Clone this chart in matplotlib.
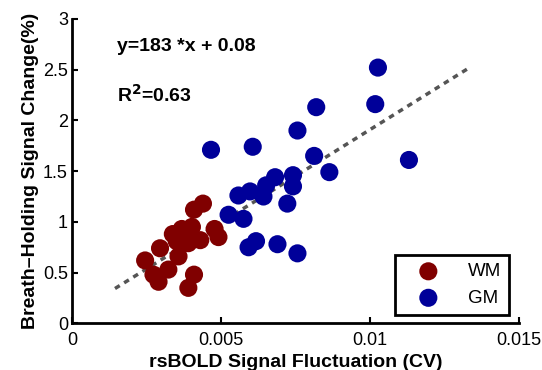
import matplotlib
matplotlib.use('Agg')
import matplotlib.pyplot as plt
import numpy as np

plt.rcParams['font.family'] = ['Liberation Sans', 'DejaVu Sans']

# WM 数据
wm_x = [4.39, 4.09, 4.78, 4.91, 4.02, 3.68, 3.38, 4.30, 3.90, 2.95,
        3.57, 2.45, 3.23, 2.73, 2.90, 4.09, 3.90, 3.51]
wm_y = [1.18, 1.12, 0.93, 0.85, 0.95, 0.93, 0.88, 0.82, 0.79, 0.74,
        0.66, 0.62, 0.53, 0.48, 0.41, 0.48, 0.35, 0.81]
# GM 数据
gm_x = [10.26, 10.17, 8.19, 7.56, 4.66, 6.06, 8.12, 11.30, 8.63, 7.41,
        6.81, 6.51, 7.41, 5.97, 5.58, 6.42, 7.22, 5.25, 5.75, 6.17,
        5.92, 6.89, 7.56]
gm_y = [2.52, 2.16, 2.13, 1.90, 1.71, 1.74, 1.65, 1.61, 1.49, 1.46,
        1.44, 1.36, 1.35, 1.30, 1.26, 1.25, 1.18, 1.07, 1.03, 0.81,
        0.75, 0.78, 0.69]
wm_x = np.array(wm_x) / 1000
gm_x = np.array(gm_x) / 1000

# 回归线
slope = 183
intercept = 0.08
fit_x = np.array([0.00144, 0.01333])

fig = plt.figure(figsize=(5.42, 3.70), dpi=100)
ax = fig.add_axes([0.133, 0.126, 0.825, 0.823])

ax.plot(fit_x, slope * fit_x + intercept, color='#555555', lw=2.5,
        dashes=(1.6, 1.5), zorder=1)
s1 = ax.scatter(wm_x, wm_y, s=170, c='#800000', edgecolors='none', zorder=2)
s2 = ax.scatter(gm_x, gm_y, s=170, c='#000099', edgecolors='none', zorder=2)

ax.text(0.00151, 2.73, 'y=183 *x + 0.08', fontsize=14, fontweight='bold',
        va='center')
ax.text(0.00151, 2.25, 'R$^\\mathbf{2}$=0.63', fontsize=14, fontweight='bold',
        va='center')

ax.set_xlim(0, 0.015)
ax.set_ylim(0, 3)
ax.set_xticks([0, 0.005, 0.01, 0.015])
ax.set_xticklabels(['0', '0.005', '0.01', '0.015'])
ax.set_yticks([0, 0.5, 1, 1.5, 2, 2.5, 3])
ax.set_yticklabels(['0', '0.5', '1', '1.5', '2', '2.5', '3'])
ax.tick_params(direction='in', length=4, width=1.5, labelsize=13)
ax.tick_params(axis='x', pad=6.5)
ax.tick_params(axis='y', pad=3)
for side in ['top', 'right']:
    ax.spines[side].set_visible(False)
for side in ['left', 'bottom']:
    ax.spines[side].set_linewidth(2)

ax.set_xlabel('rsBOLD Signal Fluctuation (CV)', fontsize=14, fontweight='bold',
              labelpad=3)
ax.set_ylabel('Breath\u2013Holding Signal Change(%)', fontsize=14,
              fontweight='bold', labelpad=3)

leg = ax.legend(handles=[s1, s2], labels=['WM', 'GM'], loc='lower right',
                fontsize=13.5, fancybox=False, edgecolor='black',
                framealpha=1, borderpad=0.45, handletextpad=0.75,
                handlelength=2.7, borderaxespad=0,
                bbox_to_anchor=(0.978, 0.027))
leg.get_frame().set_linewidth(2)

fig.savefig('out.png', dpi=100)
